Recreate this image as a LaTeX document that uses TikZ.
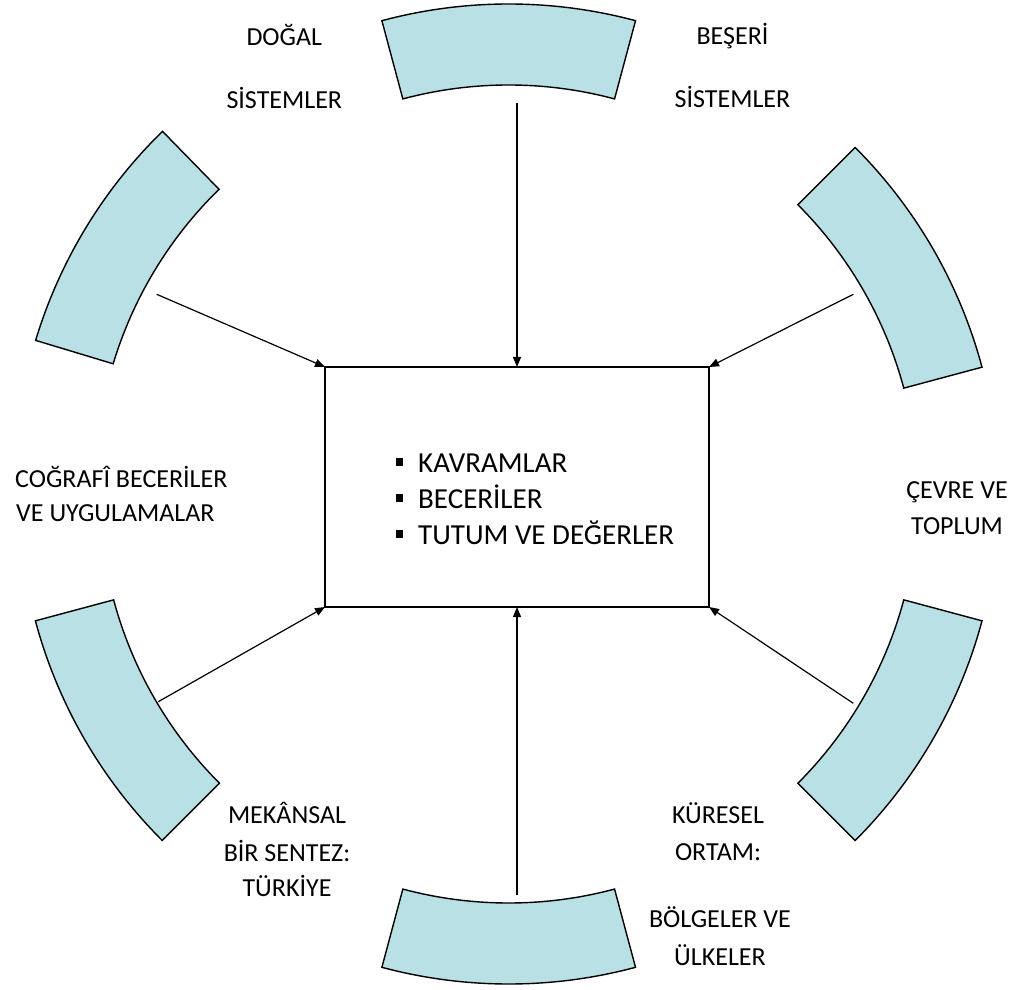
\documentclass[tikz,border=0pt]{standalone}
\usepackage{fontspec}
\setmainfont{Carlito}
\usetikzlibrary{arrows.meta}
\definecolor{arcfill}{RGB}{185,224,228}
\tikzset{
  sectorsty/.style={draw=black, fill=arcfill, line width=1.4pt, line join=miter},
  arr/.style={line width=1.2pt, -{Triangle[length=10pt,width=8pt]}},
  lbl/.style={font=\fontsize{26}{31}\selectfont, inner sep=0pt, anchor=base},
  lbll/.style={lbl, anchor=base west},
  itemtxt/.style={font=\fontsize{29}{35}\selectfont, inner sep=0pt, anchor=base west},
  bul/.style={fill=black, minimum size=7.5pt, inner sep=0pt, outer sep=0pt},
  boxsty/.style={draw, line width=1.4pt, minimum width=384pt, minimum height=240pt, inner sep=0pt, outer sep=0pt}
}
\newcommand\drawsector[3]{%
  \path[sectorsty] (#1) ++(#2:490pt) arc[start angle=#2,end angle=#3,radius=490pt]
    -- ++(#3+180:81pt) arc[start angle=#3,end angle=#2,radius=409pt] -- cycle;}
\begin{document}
\begin{tikzpicture}[x=1pt,y=1pt]
\useasboundingbox (0,0) rectangle (1033,989);
\coordinate (C) at (508.7,495);
\coordinate (Clt) at (504.7,507);
% sectors
\drawsector{C}{75}{105}
\drawsector{C}{15}{45}
\drawsector{C}{-45}{-15}
\drawsector{C}{255}{285}
\drawsector{C}{195}{225}
\drawsector{Clt}{134.3}{163.2}
% central box
\node[boxsty] (box) at (517,502) {};
\node[bul] (b1) at (399.5,526.8) {};
\node[bul] (b2) at (399.5,491.2) {};
\node[bul] (b3) at (399.5,455.2) {};
\node[itemtxt] (i1) at (418,516.3) {KAVRAMLAR};
\node[itemtxt] (i2) at (418,480.7) {BECERİLER};
\node[itemtxt] (i3) at (418,444.7) {TUTUM VE DEĞERLER};
% arrow starts
\coordinate (stop) at (517,886.3);
\coordinate (sbot) at (517,94);
\coordinate (slt) at (156.7,694.7);
\coordinate (srt) at (853.3,694.7);
\coordinate (slb) at (158.3,287.3);
\coordinate (srb) at (853.3,285.7);
\draw[arr] (stop) -- (box.north);
\draw[arr] (sbot) -- (box.south);
\draw[arr] (slt) -- (box.north west);
\draw[arr] (srt) -- (box.north east);
\draw[arr] (slb) -- (box.south west);
\draw[arr] (srb) -- (box.south east);
% labels
\node[lbl] (l1a) at (284.3,943) {DOĞAL};
\node[lbl] (l1b) at (284.3,880.7) {SİSTEMLER};
\node[lbl] (l2a) at (732.5,944) {BEŞERİ};
\node[lbl] (l2b) at (732.5,881) {SİSTEMLER};
\node[lbll] (l3a) at (15,501.5) {COĞRAFÎ BECERİLER};
\node[lbll] (l3b) at (16,467) {VE UYGULAMALAR};
\node[lbl] (l4a) at (957,490.7) {ÇEVRE VE};
\node[lbl] (l4b) at (957,454.7) {TOPLUM};
\node[lbl] (l5a) at (287,165.7) {MEKÂNSAL};
\node[lbl] (l5b) at (287,128) {BİR SENTEZ:};
\node[lbl] (l5c) at (287,92.3) {TÜRKİYE};
\node[lbl] (l6a) at (718,166) {KÜRESEL};
\node[lbl] (l6b) at (718,129) {ORTAM:};
\node[lbl] (l6c) at (720,62) {BÖLGELER VE};
\node[lbl] (l6d) at (720,24) {ÜLKELER};
\end{tikzpicture}
\end{document}
